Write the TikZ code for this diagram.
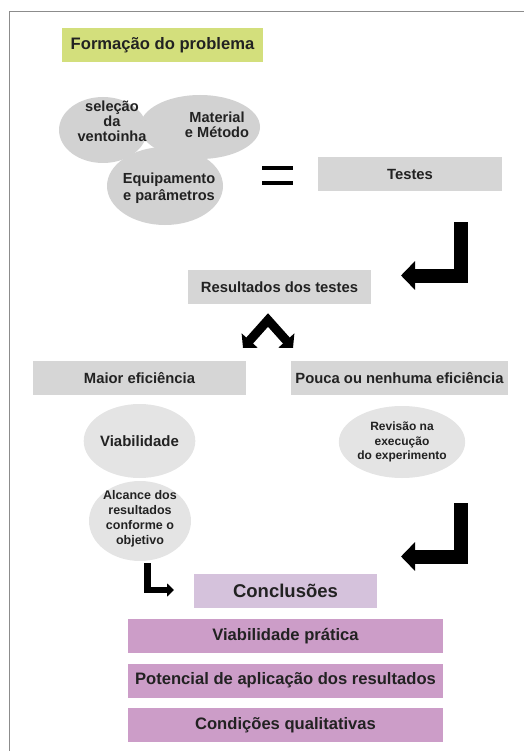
\documentclass[tikz,border=0pt]{standalone}
\usepackage{fontspec}
\setmainfont{Liberation Sans}
\usetikzlibrary{arrows.meta,shapes.geometric,positioning}
\definecolor{titlegreen}{HTML}{D3DF7C}
\definecolor{boxgray}{HTML}{D6D6D6}
\definecolor{blobgray}{HTML}{D2D2D2}
\definecolor{ovalgray}{HTML}{E4E4E4}
\definecolor{lilac}{HTML}{D5C2DC}
\definecolor{mauve}{HTML}{CC9DC8}
\definecolor{txtcol}{HTML}{222222}
\newcommand{\fsz}[1]{\bfseries\fontsize{#1}{#1}\selectfont}
\tikzset{
  graybox/.style={fill=boxgray, minimum height=34pt, inner sep=0pt, text=txtcol, font=\fsz{14.8}},
  blob/.style={ellipse, fill=blobgray, inner sep=0pt},
  oval/.style={ellipse, fill=ovalgray, inner sep=0pt, text=txtcol, align=center},
  blobtxt/.style={align=center, text=txtcol, font=\bfseries\fontsize{14.6}{15}\selectfont},
  bigarrow/.style={line width=14pt, line join=miter, -{Triangle[length=14pt,width=28pt]}},
}
\begin{document}
\begin{tikzpicture}[x=1pt,y=-1pt]
\useasboundingbox (0,0) rectangle (524,751);
% frame
\draw[black!45, line width=1pt] (9,751) -- (9,12) -- (524,12);
% title
\node[fill=titlegreen, minimum width=201pt, minimum height=34pt, inner sep=0pt, text=txtcol, font=\fsz{16.6}] (title) at (162.5,45) {Formação do problema};
% three overlapping ellipses
\node[blob, minimum width=88pt, minimum height=66pt] (sel) at (103,130) {};
\node[blob, minimum width=120pt, minimum height=64pt] (mat) at (200,127) {};
\node[blob, minimum width=116pt, minimum height=78pt] (equip) at (165,186) {};
\node[blobtxt] (seltxt) at (112,121) {seleção\\da\\ventoinha};
\node[blobtxt] (mattxt) at (217,125) {Material\\e Método};
\node[blobtxt, font=\bfseries\fontsize{14.6}{16.5}\selectfont] (equiptxt) at (169,188) {Equipamento\\e parâmetros};
% equals sign
\fill[black] (262,166) rectangle (293,170.5);
\fill[black] (262,181) rectangle (293,185.5);
\node[graybox, minimum width=184pt] (testes) at (410,174.5) {Testes};
% arrow to results
\coordinate (a1top) at (461,222);
\coordinate (a1tip) at (401,275.5);
\draw[bigarrow] (a1top) |- (a1tip);
\node[graybox, minimum width=183pt] (res) at (279.5,287) {Resultados dos testes};
% split arrow
\coordinate (chl) at (243,348);
\coordinate (chtop) at (268,320);
\coordinate (chr) at (293,348);
\draw[line width=9pt, line join=miter, {Triangle[length=10pt,width=21pt]}-{Triangle[length=10pt,width=21pt]}] (chl) -- (chtop) -- (chr);
\node[graybox, minimum width=213pt] (maior) at (139.5,378) {Maior eficiência};
\node[graybox, minimum width=217pt] (pouca) at (399.5,378) {Pouca ou nenhuma eficiência};
% outcomes
\node[oval, minimum width=107pt, minimum height=74pt, font=\fsz{15}] (viab) at (139.5,441) {Viabilidade};
\node[oval, minimum width=106pt, minimum height=72pt, font=\bfseries\fontsize{12}{14.5}\selectfont] (rev) at (402,442) {Revisão na\\execução\\do experimento};
\node[oval, minimum width=102pt, minimum height=80pt] (alc) at (140,521) {};
\node[align=center, text=txtcol, font=\bfseries\fontsize{12.5}{15}\selectfont] (alctxt) at (140,518.5) {Alcance dos\\resultados\\conforme o\\objetivo};
% arrows to conclusions
\coordinate (ltop) at (147.5,563);
\coordinate (ltip) at (174,590);
\draw[line width=6.5pt, line join=miter, -{Triangle[length=7pt,width=13pt]}] (ltop) |- (ltip);
\coordinate (a2top) at (461,503);
\coordinate (a2tip) at (401,556.5);
\draw[bigarrow] (a2top) |- (a2tip);
\node[graybox, fill=lilac, minimum width=183pt, font=\fsz{18.5}] (concl) at (285.5,591) {Conclusões};
\foreach \y/\t/\n in {636/Viabilidade prática/vp, 680.5/Potencial de aplicação dos resultados/pot, 725/Condições qualitativas/cond}
  \node[graybox, fill=mauve, minimum width=315pt, font=\fsz{16.6}] (\n) at (285.5,\y) {\t};
\end{tikzpicture}
\end{document}
